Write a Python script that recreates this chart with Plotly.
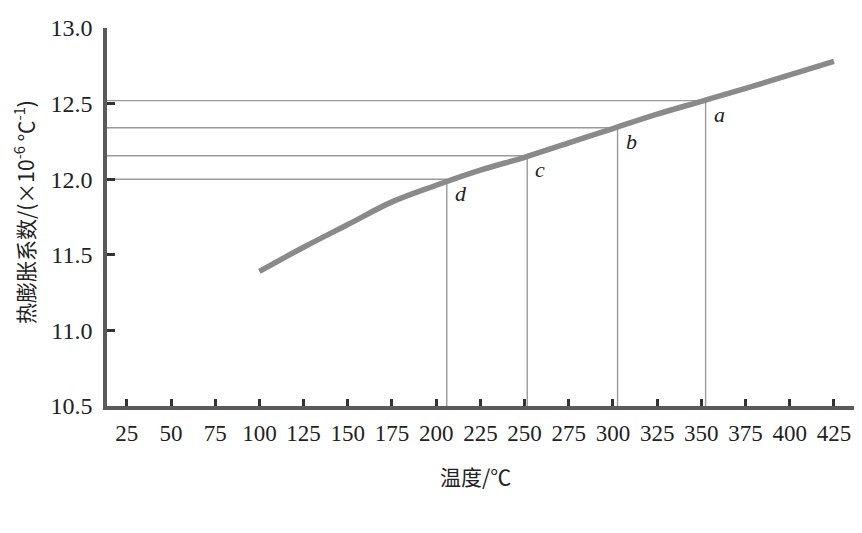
import plotly.graph_objects as go

# Data
temps = [100, 125, 150, 175, 200, 225, 250, 275, 300, 325, 350, 375, 400, 425]
cte = [11.39, 11.55, 11.70, 11.85, 11.96, 12.06, 12.145, 12.24, 12.335, 12.43, 12.515, 12.60, 12.69, 12.78]

mark_labels = ["a", "b", "c", "d"]
mark_temps = [352.4, 302.6, 251.5, 206.0]
mark_cte = [12.52, 12.34, 12.155, 12.0]

x_ticks = [25, 50, 75, 100, 125, 150, 175, 200, 225, 250, 275, 300, 325, 350, 375, 400, 425]
y_ticks = [10.5, 11.0, 11.5, 12.0, 12.5, 13.0]

X_MIN, X_MAX = 13.8, 436.9
Y_MIN, Y_MAX = 10.5, 13.0

fig = go.Figure()

guide_color = "#9a9a9a"
for lab, t, v in zip(mark_labels, mark_temps, mark_cte):
    # horizontal guide
    fig.add_trace(go.Scatter(x=[X_MIN, t], y=[v, v], mode="lines",
                             line=dict(color=guide_color, width=1.4),
                             hoverinfo="skip", showlegend=False))
    # vertical guide
    fig.add_trace(go.Scatter(x=[t, t], y=[Y_MIN, v], mode="lines",
                             line=dict(color=guide_color, width=1.4),
                             hoverinfo="skip", showlegend=False))
    fig.add_annotation(x=t, y=v, text=f"<i>{lab}</i>", showarrow=False,
                       xanchor="left", yanchor="middle", xshift=6, yshift=-14,
                       font=dict(family="Liberation Serif", size=22, color="#222"))

fig.add_trace(go.Scatter(x=temps, y=cte, mode="lines",
                         line=dict(color="#8a8a8a", width=5.5, shape="spline", smoothing=1.0),
                         showlegend=False))

axis_color = "#5a5a5a"
fig.update_xaxes(range=[X_MIN, X_MAX], tickvals=x_ticks, ticktext=[str(v) for v in x_ticks],
                 showgrid=False, zeroline=False, showline=True, linecolor=axis_color, linewidth=3.5,
                 ticks="inside", ticklen=7, tickwidth=2.5, tickcolor="#333",
                 ticklabelstandoff=4, ticklabeloverflow="allow",
                 tickfont=dict(family="Liberation Serif", size=23, color="#222"))
fig.update_yaxes(range=[Y_MIN, Y_MAX], tickvals=y_ticks, ticktext=[f"{v:.1f}" for v in y_ticks],
                 showgrid=False, zeroline=False, showline=True, linecolor=axis_color, linewidth=3.5,
                 ticks="inside", ticklen=8, tickwidth=2.5, tickcolor="#333",
                 ticklabelstandoff=6, ticklabeloverflow="allow",
                 tickfont=dict(family="Liberation Serif", size=24, color="#222"))

fig.add_annotation(xref="paper", yref="paper", x=0.493, y=0, yshift=-70,
                   xanchor="center", yanchor="middle", showarrow=False,
                   text="温度/℃",
                   font=dict(family="Noto Sans CJK SC", size=21, color="#222"))
fig.add_annotation(xref="paper", yref="paper", x=0, y=0.5, xshift=-83, yshift=5,
                   xanchor="center", yanchor="middle", showarrow=False, textangle=-90,
                   text="热膨胀系数/(×10<sup>-6</sup> ℃<sup>-1</sup>)",
                   font=dict(family="Noto Sans CJK SC", size=21, color="#222"))

# page body has an 8px margin, so the figure is sized to fit the 862x533 window
fig.update_layout(width=854, height=525, margin=dict(l=99, r=7, t=11, b=127),
                  plot_bgcolor="white", paper_bgcolor="white")

fig.write_html("out.html")
